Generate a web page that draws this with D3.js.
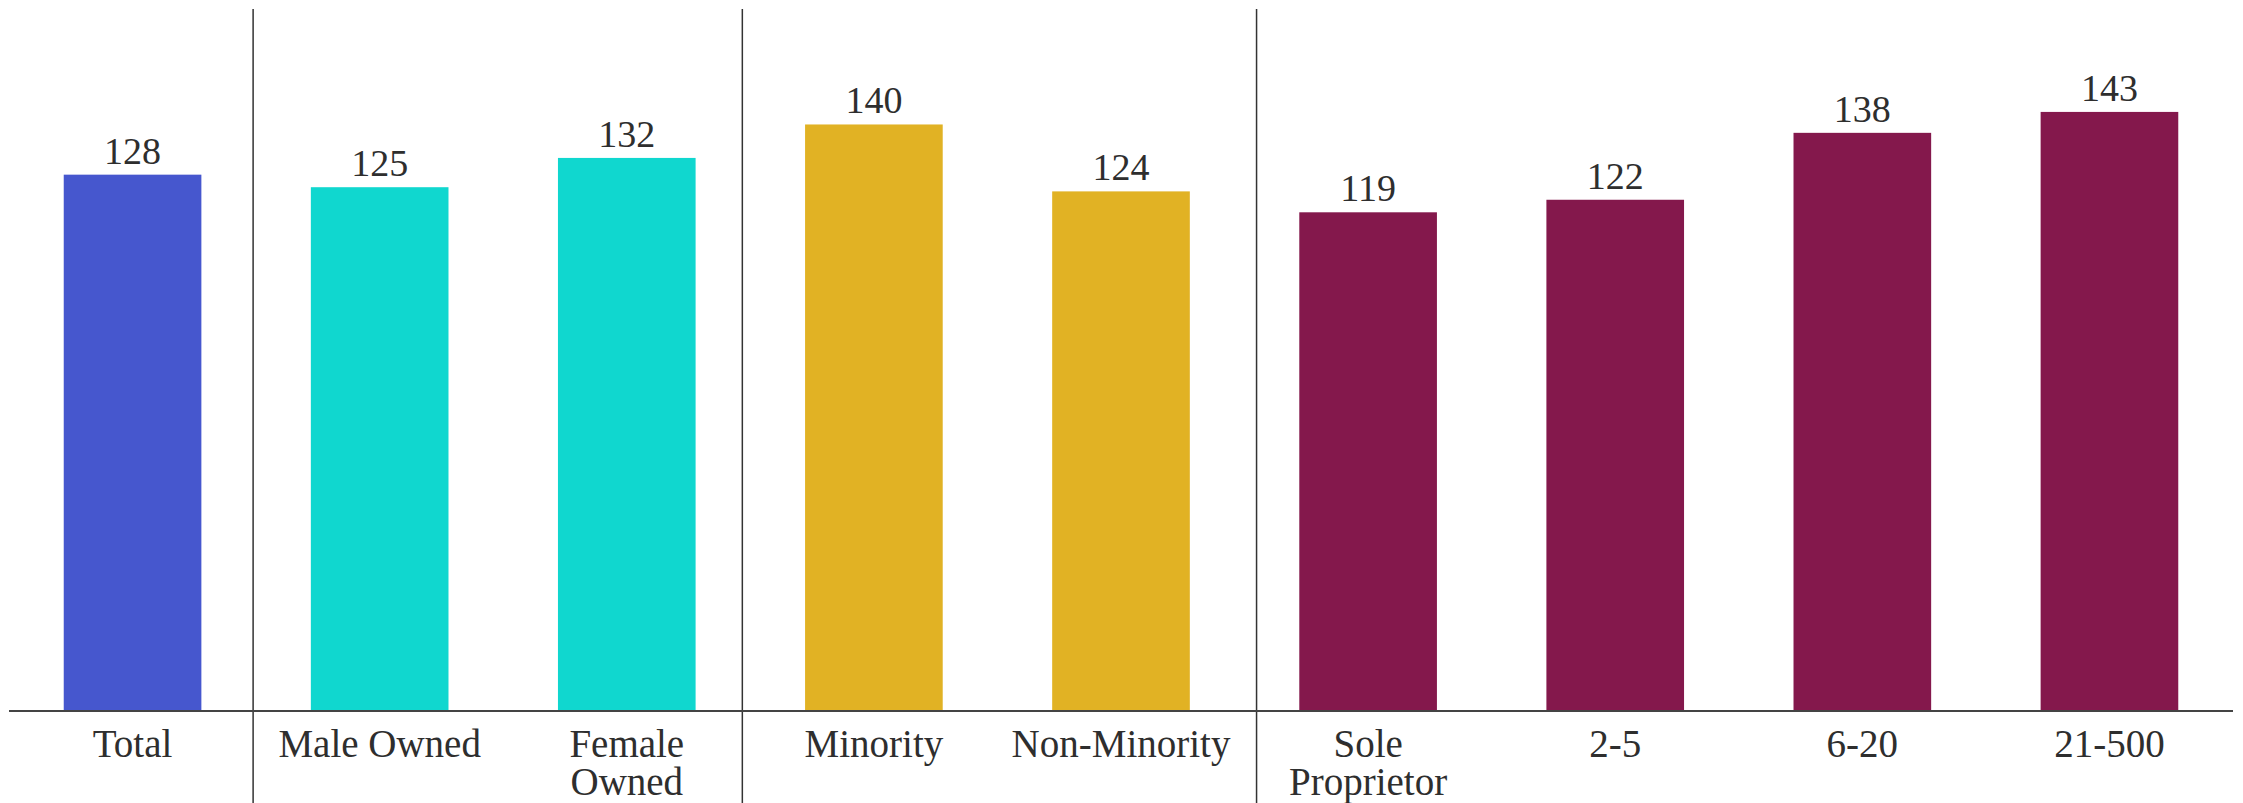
<!DOCTYPE html>
<html>
<head>
<meta charset="utf-8">
<script src="https://cdn.jsdelivr.net/npm/d3@7"></script>
<style>
  html, body { margin: 0; padding: 0; background: #ffffff; }
  svg { display: block; }
</style>
</head>
<body>
<svg id="chart" width="2243" height="803"></svg>
<script>
// Category labels (line breaks split with "\n")
const categories = [
  "Total", "Male Owned", "Female\nOwned", "Minority", "Non-Minority",
  "Sole\nProprietor", "2-5", "6-20", "21-500"
];
// Index value for each category
const values = [128, 125, 132, 140, 124, 119, 122, 138, 143];
// Group each category belongs to (drives colour and dividers)
const groups = ["total", "gender", "gender", "minority", "minority", "size", "size", "size", "size"];
const groupColors = {
  total: "#4657CE",
  gender: "#10D7CF",
  minority: "#E1B224",
  size: "#84184C"
};

const W = 2243, H = 803;
const baseY = 710;
const svg = d3.select("#chart");

const x = d3.scaleBand()
  .domain(categories)
  .range([9, 2233])
  .paddingInner(0.443)
  .paddingOuter(0.2215);

const y = d3.scaleLinear()
  .domain([0, 170])
  .range([baseY, -1]);

// Vertical dividers between groups, drawn at the boundary after each group's last band
const dividerNudge = [-3, -8, 12];
const boundaries = [];
groups.forEach((g, i) => {
  if (i < groups.length - 1 && groups[i + 1] !== g) boundaries.push(i);
});
svg.append("g")
  .selectAll("line")
  .data(boundaries)
  .join("line")
  .attr("x1", (d, k) => x(categories[d]) + x.bandwidth() + x.step() * x.paddingInner() / 2 + dividerNudge[k])
  .attr("x2", (d, k) => x(categories[d]) + x.bandwidth() + x.step() * x.paddingInner() / 2 + dividerNudge[k])
  .attr("y1", 9)
  .attr("y2", H)
  .attr("stroke", "#333")
  .attr("stroke-width", 1.5);

// Bars
svg.append("g")
  .selectAll("rect")
  .data(categories)
  .join("rect")
  .attr("x", d => x(d))
  .attr("width", x.bandwidth())
  .attr("y", (d, i) => y(values[i]))
  .attr("height", (d, i) => y(0) - y(values[i]))
  .attr("fill", (d, i) => groupColors[groups[i]]);

// Value labels above bars
svg.append("g")
  .selectAll("text")
  .data(categories)
  .join("text")
  .attr("x", d => x(d) + x.bandwidth() / 2)
  .attr("y", (d, i) => y(values[i]) - 11)
  .attr("text-anchor", "middle")
  .attr("font-family", "'Liberation Serif', 'Times New Roman', serif")
  .attr("font-size", 38)
  .attr("fill", "#2e2e2e")
  .text((d, i) => values[i]);

// Baseline axis with category labels
const xAxis = d3.axisBottom(x).tickSize(0).tickPadding(0);
const axisG = svg.append("g")
  .attr("transform", `translate(0,${baseY + 1})`)
  .call(xAxis);
axisG.select(".domain")
  .attr("d", "M9,0H2233")
  .attr("stroke", "#444")
  .attr("stroke-width", 2);
axisG.selectAll(".tick text").remove();
axisG.selectAll(".tick")
  .append("text")
  .attr("text-anchor", "middle")
  .attr("font-family", "'Liberation Serif', 'Times New Roman', serif")
  .attr("font-size", 39)
  .attr("fill", "#2e2e2e")
  .each(function(d) {
    const lines = d.split("\n");
    d3.select(this).selectAll("tspan")
      .data(lines)
      .join("tspan")
      .attr("x", 0)
      .attr("y", (l, j) => 46 + j * 38)
      .text(l => l);
  });
</script>
</body>
</html>
